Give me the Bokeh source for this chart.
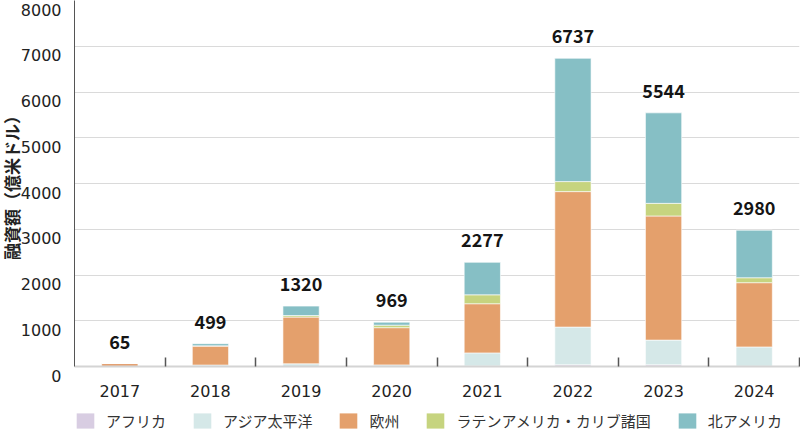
from bokeh.plotting import figure
from bokeh.layouts import column
from bokeh.models import (Range1d, FixedTicker, GlobalInlineStyleSheet, ColumnDataSource,
                          Legend, LegendItem)
from bokeh.core.properties import value
from bokeh.embed import file_html
from bokeh.resources import INLINE

# ---- data (億米ドル) ----
years = ["2017", "2018", "2019", "2020", "2021", "2022", "2023", "2024"]
totals = [65, 499, 1320, 969, 2277, 6737, 5544, 2980]
africa = [0, 2, 0, 0, 12, 37, 37, 7]
asia_pacific = [3, 30, 60, 35, 285, 825, 540, 420]
europe = [62, 415, 1020, 814, 1075, 2961, 2713, 1405]
latin_america = [0, 5, 35, 55, 195, 219, 276, 108]
north_america = [0, 47, 205, 65, 710, 2695, 1978, 1040]

series_names = ["アフリカ", "アジア太平洋", "欧州", "ラテンアメリカ・カリブ諸国", "北アメリカ"]
series_keys = ["africa", "asia_pacific", "europe", "latin_america", "north_america"]
colors = ["#d8cde2", "#d5e8e8", "#e4a06c", "#c6d47f", "#86bfc5"]
y_ticks = [0, 1000, 2000, 3000, 4000, 5000, 6000, 7000, 8000]
y_title = "融資額（億米ドル）"

xs = [i + 0.5 for i in range(len(years))]
source = ColumnDataSource(dict(
    x=xs, africa=africa, asia_pacific=asia_pacific, europe=europe,
    latin_america=latin_america, north_america=north_america,
))

W = 805
p = figure(
    width=W, height=400,
    x_range=Range1d(0, len(years)), y_range=Range1d(0, 8000),
    output_backend="svg", toolbar_location=None,
    min_border_left=70, min_border_right=1, min_border_top=0, min_border_bottom=34,
    outline_line_color=None,
)
p.title = None

renderers = p.vbar_stack(
    series_keys, x="x", width=0.4, source=source, color=colors,
    line_color="white", line_alpha=0.6, line_width=1,
)

p.text(
    x=xs, y=totals, text=[str(t) for t in totals],
    text_align="center", text_baseline="alphabetic", y_offset=-22,
    text_font=value("Noto Sans CJK JP"), text_font_style="bold",
    text_font_size="18px", text_color="#151515",
)

# y axis (labels sit just below their grid lines, as in the original)
yax = p.yaxis[0]
yax.ticker = FixedTicker(ticks=y_ticks)
yax.major_label_overrides = {t: ("\n" + str(t) if t < max(y_ticks) else str(t)) for t in y_ticks}
yax.major_label_text_line_height = 1.0
yax.axis_line_color = "#555555"
yax.axis_line_width = 1
yax.major_tick_line_color = None
yax.minor_tick_line_color = None
yax.major_label_text_font = "DejaVu Sans"
yax.major_label_text_font_size = "16px"
yax.major_label_text_color = "#222222"
yax.major_label_standoff = 7
yax.axis_label = y_title
yax.axis_label_text_font = "Noto Sans CJK JP"
yax.axis_label_text_font_style = "bold"
yax.axis_label_text_font_size = "17px"
yax.axis_label_text_color = "#222222"
yax.axis_label_standoff = -6

# x axis
xax = p.xaxis[0]
xax.ticker = FixedTicker(ticks=xs, minor_ticks=list(range(1, len(years) + 1)))
xax.major_label_overrides = {x: y for x, y in zip(xs, years)}
xax.axis_line_color = "#d4d4d4"
xax.axis_line_width = 2
xax.major_tick_line_color = None
xax.minor_tick_in = 9
xax.minor_tick_out = 0
xax.minor_tick_line_color = "#555555"
xax.minor_tick_line_width = 1.5
xax.major_label_text_font = "DejaVu Sans"
xax.major_label_text_font_size = "16px"
xax.major_label_text_color = "#222222"
xax.major_label_standoff = 12

p.xgrid.grid_line_color = None
p.ygrid.grid_line_color = "#dadada"
p.ygrid.grid_line_width = 1

# legend strip below the chart (zero-height proxies carry the swatch colours)
pl = figure(
    width=W, height=35, x_range=Range1d(0, 1), y_range=Range1d(0, 1),
    output_backend="svg", toolbar_location=None,
    x_axis_type=None, y_axis_type=None, min_border=0, outline_line_color=None,
)
pl.title = None
pl.grid.visible = False
swatches = [pl.vbar(x="x", top=0, width=0.4, source=source, fill_color=c, line_color=None)
            for c in colors]
legend = Legend(
    items=[LegendItem(label=n, renderers=[r]) for n, r in zip(series_names, swatches)],
    orientation="horizontal", location=(0, 4),
    padding=0, margin=0, spacing=25, label_standoff=10,
    glyph_width=22, glyph_height=19, label_height=19,
    border_line_color=None, background_fill_alpha=0,
    label_text_font="Noto Sans CJK JP", label_text_font_size="15px",
    label_text_color="#333333",
)
pl.add_layout(legend, "center")

layout = column(p, pl, spacing=0)
layout.stylesheets = [GlobalInlineStyleSheet(
    css="html { margin: 0; padding: 0; overflow: hidden; } "
        "body { margin: 0 0 0 -5px !important; padding: 0; overflow: hidden; }"
)]

open("out.html", "w").write(file_html(layout, INLINE))
